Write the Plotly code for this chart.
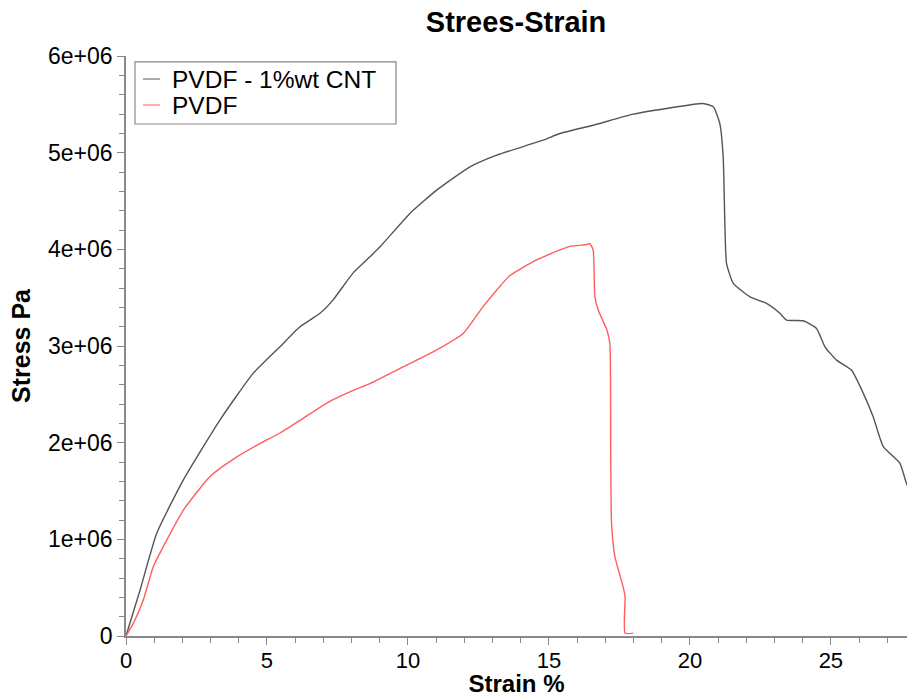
import plotly.graph_objects as go

# PVDF - 1%wt CNT (dark gray curve)
cnt_strain = [0, 0.5, 1.09, 2.03, 3.33, 4.51, 5.46, 6.17, 6.88, 7.34, 8.05, 8.65, 9.01,
              10.07, 11.02, 12.2, 13.15, 14.79, 15.39, 16.57, 17.99, 19.17, 20.47, 20.83,
              21.06, 21.18, 21.24, 21.3, 21.54, 22.13, 22.72, 23.19, 23.43, 24.02, 24.49,
              24.79, 25.2, 25.73, 26.15, 26.5, 26.86, 27.45, 27.68, 27.9]
cnt_stress = [0, 0.476e6, 1.062e6, 1.613e6, 2.234e6, 2.717e6, 2.992e6, 3.199e6, 3.338e6,
              3.475e6, 3.754e6, 3.922e6, 4.026e6, 4.371e6, 4.612e6, 4.853e6, 4.974e6,
              5.129e6, 5.198e6, 5.284e6, 5.398e6, 5.457e6, 5.509e6, 5.474e6, 5.302e6,
              4.957e6, 4.268e6, 3.854e6, 3.647e6, 3.509e6, 3.44e6, 3.338e6, 3.268e6,
              3.261e6, 3.182e6, 2.992e6, 2.854e6, 2.751e6, 2.51e6, 2.268e6, 1.958e6,
              1.786e6, 1.579e6, 1.45e6]

# PVDF (red curve)
pvdf_strain = [0, 0.26, 0.61, 0.97, 1.44, 2.03, 2.98, 3.92, 4.75, 5.46, 6.17, 7.12, 8.06,
               8.65, 9.6, 11.02, 11.96, 12.67, 13.15, 13.62, 14.56, 15.74, 16.34, 16.45,
               16.57, 16.63, 16.75, 17.05, 17.16, 17.19, 17.22, 17.34, 17.63, 17.7, 17.7,
               17.99]
pvdf_stress = [0, 0.13e6, 0.37e6, 0.72e6, 0.99e6, 1.30e6, 1.65e6, 1.85e6, 1.99e6, 2.10e6,
               2.23e6, 2.41e6, 2.54e6, 2.61e6, 2.75e6, 2.96e6, 3.13e6, 3.41e6, 3.58e6,
               3.73e6, 3.89e6, 4.03e6, 4.05e6, 4.06e6, 3.99e6, 3.51e6, 3.37e6, 3.17e6,
               3.03e6, 1.96e6, 1.17e6, 0.82e6, 0.51e6, 0.41e6, 0.03e6, 0.03e6]

series_names = ["PVDF - 1%wt CNT", "PVDF"]
series_colors = ["#555555", "#ff5e5e"]
legend_colors = ["#888888", "#ff8a8a"]

y_tick_vals = [0, 1e6, 2e6, 3e6, 4e6, 5e6, 6e6]
y_tick_text = ["0", "1e+06", "2e+06", "3e+06", "4e+06", "5e+06", "6e+06"]
x_tick_vals = [0, 5, 10, 15, 20, 25]

FONT = "Liberation Sans, Arial, Helvetica, sans-serif"

fig = go.Figure()
fig.add_trace(go.Scatter(x=cnt_strain, y=cnt_stress, mode="lines",
                         name=series_names[0], showlegend=False,
                         line=dict(color=series_colors[0], width=1.4,
                                   shape="spline", smoothing=0.5)))
fig.add_trace(go.Scatter(x=pvdf_strain, y=pvdf_stress, mode="lines",
                         name=series_names[1], showlegend=False,
                         line=dict(color=series_colors[1], width=1.4,
                                   shape="spline", smoothing=0.5)))

axis_common = dict(showline=True, linecolor="#888888", linewidth=1.5,
                   ticks="outside", tickcolor="#888888", ticklen=7, tickwidth=1.2,
                   showgrid=False, zeroline=False, automargin=False)

fig.update_xaxes(range=[0, 27.7], tickvals=x_tick_vals,
                 tickfont=dict(family=FONT, size=22, color="black"),
                 ticklabelstandoff=-3,
                 minor=dict(dtick=1, ticks="outside", ticklen=5, tickcolor="#888888"),
                 title=dict(text="Strain %", font=dict(family=FONT, size=24, color="black", weight="bold"),
                            standoff=7),
                 **axis_common)
fig.update_yaxes(range=[0, 6e6], tickvals=y_tick_vals, ticktext=y_tick_text,
                 tickfont=dict(family=FONT, size=23, color="black"),
                 minor=dict(dtick=2e5, ticks="outside", ticklen=5, tickcolor="#888888"),
                 title=dict(text="Stress Pa", font=dict(family=FONT, size=25, color="black", weight="bold"),
                            standoff=10),
                 **axis_common)

# Custom legend box (paper coordinates)
shapes = [dict(type="rect", xref="paper", yref="paper", x0=0.0115, x1=0.3457,
               y0=0.8828, y1=0.9897, line=dict(color="#888888", width=1.2),
               fillcolor="white", layer="above")]
annotations = []
legend_rows_y = [0.9603, 0.9155]
for name, col, yy in zip(series_names, legend_colors, legend_rows_y):
    shapes.append(dict(type="line", xref="paper", yref="paper", x0=0.0218, x1=0.0436,
                       y0=yy, y1=yy, line=dict(color=col, width=1.4), layer="above"))
    annotations.append(dict(text=name, xref="paper", yref="paper", x=0.0563, y=yy,
                            xanchor="left", yanchor="middle", showarrow=False,
                            font=dict(family=FONT, size=24.5, color="black")))

fig.update_layout(
    width=907, height=697,
    margin=dict(l=126, r=0, t=56, b=61),
    paper_bgcolor="white", plot_bgcolor="white",
    title=dict(text="Strees-Strain", x=0.569, xanchor="center", y=0.968, yanchor="middle",
               font=dict(family=FONT, size=29, color="black", weight="bold")),
    shapes=shapes,
    annotations=annotations,
    showlegend=False,
)

fig.write_html("out.html", config={"displayModeBar": False},
               post_script="document.body.style.margin='0px';")
